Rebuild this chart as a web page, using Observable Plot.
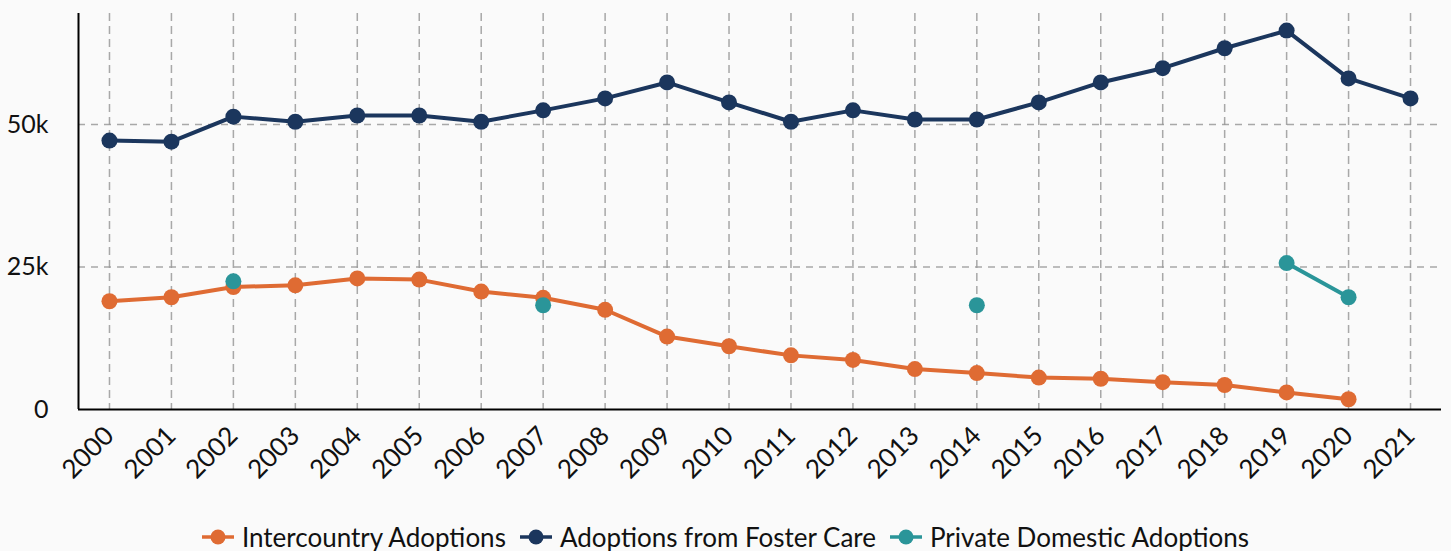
<!DOCTYPE html>
<html>
<head>
<meta charset="utf-8">
<script src="https://cdn.jsdelivr.net/npm/d3@7"></script>
<script src="https://cdn.jsdelivr.net/npm/@observablehq/plot@0.6"></script>
<style>
  html, body { margin: 0; padding: 0; background: #fafafa; }
  body { width: 1451px; height: 551px; overflow: hidden; font-family: Lato, "Noto Sans", sans-serif; }
  #chart svg { display: block; }
  #legend { display: flex; justify-content: center; align-items: center; gap: 14px; font-size: 26px; color: #111; line-height: 30px; }
  .item { display: flex; align-items: center; gap: 8px; }
</style>
</head>
<body>
<div id="chart"></div>
<div id="legend"></div>
<script>
const years = [2000,2001,2002,2003,2004,2005,2006,2007,2008,2009,2010,2011,2012,2013,2014,2015,2016,2017,2018,2019,2020,2021];
const intercountry = [19000,19700,21500,21800,23000,22800,20700,19600,17500,12800,11100,9500,8700,7100,6400,5600,5400,4800,4300,3000,1800,null];
const fosterCare = [47200,47000,51400,50500,51600,51600,50500,52500,54600,57400,53900,50500,52500,50900,50900,53900,57400,59900,63400,66500,58100,54600];
const privateDomestic = [null,null,22500,null,null,null,null,18300,null,null,null,null,null,null,18300,null,null,null,null,25700,19700,null];
const seriesNames = ["Intercountry Adoptions","Adoptions from Foster Care","Private Domestic Adoptions"];
const seriesColors = ["#df6b33","#1b365d","#2a9599"];
const yTicks = [0, 25000, 50000];
const yTickLabels = ["0", "25k", "50k"];

const seriesValues = [intercountry, fosterCare, privateDomestic];
const data = [];
seriesNames.forEach((name, i) => {
  years.forEach((yr, j) => data.push({series: name, year: yr, value: seriesValues[i][j]}));
});
const dotsData = data.filter(d => d.value != null);

const width = 1451, height = 490;
const chart = Plot.plot({
  width, height,
  marginTop: 13, marginLeft: 78, marginRight: 10, marginBottom: 81,
  style: {background: "#fafafa", fontFamily: "Lato, 'Noto Sans', sans-serif", fontSize: "25px", color: "#111"},
  x: {domain: [1999.5, 2021.5], label: null},
  y: {domain: [0, 69500], label: null},
  color: {domain: seriesNames, range: seriesColors},
  marks: [
    Plot.gridX(years, {stroke: "#999", strokeOpacity: 0.85, strokeDasharray: "8,5", strokeWidth: 1.5}),
    Plot.gridY(yTicks.slice(1), {stroke: "#999", strokeOpacity: 0.85, strokeDasharray: "7,6", strokeWidth: 1.5}),
    Plot.axisY(yTicks, {tickSize: 0, tickPadding: 30, tickFormat: (d) => yTickLabels[yTicks.indexOf(d)], fontSize: 25, label: null}),
    Plot.axisX(years, {tickSize: 0, tickPadding: 22, tickRotate: -45, tickFormat: "d", fontSize: 26, label: null}),
    Plot.ruleY([0], {stroke: "#000", strokeWidth: 2}),
    Plot.ruleX([1999.5], {stroke: "#000", strokeWidth: 2}),
    Plot.line(data, {x: "year", y: "value", z: "series", stroke: "series", strokeWidth: 4}),
    Plot.dot(dotsData, {x: "year", y: "value", fill: "series", r: 8})
  ]
});
document.getElementById("chart").append(chart);

const legend = document.getElementById("legend");
seriesNames.forEach((name, i) => {
  const item = document.createElement("div");
  item.className = "item";
  item.innerHTML = `<svg width="32" height="20"><line x1="0" y1="10" x2="32" y2="10" stroke="${seriesColors[i]}" stroke-width="3.5"/><circle cx="16" cy="10" r="7.5" fill="${seriesColors[i]}"/></svg><span>${name}</span>`;
  legend.append(item);
});
legend.style.marginTop = "32px";
</script>
</body>
</html>
